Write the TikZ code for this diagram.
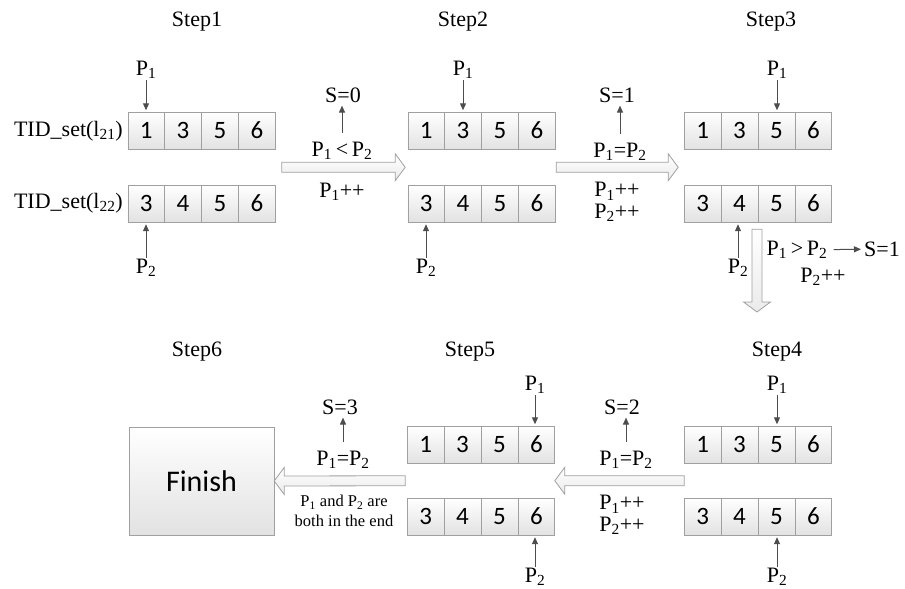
\documentclass[tikz,border=0pt]{standalone}
\usepackage{fontspec}
\usepackage{array}
\setmainfont{Liberation Serif}
\newfontfamily\cellfont{Carlito}
\usetikzlibrary{arrows.meta, calc}

\definecolor{cellline}{RGB}{160,160,160}
\definecolor{cellfill}{RGB}{226,226,226}
\definecolor{ptrcolor}{RGB}{77,77,77}

\newcommand\pone{P\textsubscript{1}}
\newcommand\ptwo{P\textsubscript{2}}

\newcommand\tidcells[4]{%
\begin{tabular}{@{}c@{{\color{cellline}\vrule}}c@{{\color{cellline}\vrule}}c@{{\color{cellline}\vrule}}c@{}}
\rule[-11pt]{0pt}{37pt}\makebox[36.5pt]{#1}&\makebox[36.5pt]{#2}&\makebox[36.5pt]{#3}&\makebox[36.5pt]{#4}
\end{tabular}}

\newcommand\fatarrow[2]{%
  \coordinate (hb) at ($(#2)!10pt!(#1)$);
  \draw[bigarrow] ($(#1)!5pt!90:(#2)$) -- ($(hb)!5pt!-90:(#1)$) -- ($(hb)!13.5pt!-90:(#1)$) -- (#2)
    -- ($(hb)!13.5pt!90:(#1)$) -- ($(hb)!5pt!90:(#1)$) -- ($(#1)!5pt!-90:(#2)$) -- cycle;}

\begin{document}
\begin{tikzpicture}[
  x=1pt, y=1pt,
  tid/.style={draw=cellline, top color=white, bottom color=cellfill, inner sep=0pt,
    font=\cellfont\fontsize{25}{28}\selectfont},
  lbl/.style={inner sep=1pt, font=\fontsize{22}{21.5}\selectfont, align=center},
  note/.style={inner sep=1pt, font=\fontsize{16.5}{20}\selectfont, align=center},
  stepname/.style={font=\fontsize{22}{24}\selectfont},
  ptr/.style={draw=ptrcolor, line width=1pt, -{Triangle[length=7pt,width=6pt]}, shorten >=2pt},
  bigarrow/.style={draw=cellline, line width=0.8pt, top color=white, bottom color=cellfill!70},
  finishbox/.style={draw=cellline, top color=white, bottom color=cellfill, minimum width=145pt,
    minimum height=108pt, font=\cellfont\fontsize{30}{34}\selectfont}
]
\useasboundingbox (0,0) rectangle (905,-589);

\node[stepname] (st1) at (197,-22) {Step1};
\node[stepname] (st2) at (463,-22) {Step2};
\node[stepname] (st3) at (771,-22) {Step3};
\node[stepname] (st6) at (197,-352) {Step6};
\node[stepname] (st5) at (470,-352) {Step5};
\node[stepname] (st4) at (777,-352) {Step4};

% Step1
\node[lbl, anchor=east] (set21) at (124,-131) {TID\_set(l\textsubscript{21})};
\node[lbl, anchor=east] (set22) at (124,-203.5) {TID\_set(l\textsubscript{22})};
\node[tid] (s1top) at (201.5,-131) {\tidcells{1}{3}{5}{6}};
\node[tid] (s1bot) at (201.5,-203.5) {\tidcells{3}{4}{5}{6}};
\node[lbl] (s1p1) at (146,-70) {\pone};
\node[lbl] (s1p2) at (146,-268) {\ptwo};
\draw[ptr] (s1p1) -- (s1p1 |- s1top.north);
\draw[ptr] (s1p2) -- (s1p2 |- s1bot.south);

% Step2
\node[tid] (s2top) at (481.5,-131) {\tidcells{1}{3}{5}{6}};
\node[tid] (s2bot) at (481.5,-203.5) {\tidcells{3}{4}{5}{6}};
\node[lbl] (s2p1) at (463,-70) {\pone};
\node[lbl] (s2p2) at (426,-268) {\ptwo};
\draw[ptr] (s2p1) -- (s2p1 |- s2top.north);
\draw[ptr] (s2p2) -- (s2p2 |- s2bot.south);

% Step3
\node[tid] (s3top) at (758,-131) {\tidcells{1}{3}{5}{6}};
\node[tid] (s3bot) at (758,-203.5) {\tidcells{3}{4}{5}{6}};
\node[lbl] (s3p1) at (777,-70) {\pone};
\node[lbl] (s3p2) at (738,-268) {\ptwo};
\draw[ptr] (s3p1) -- (s3p1 |- s3top.north);
\draw[ptr] (s3p2) -- (s3p2 |- s3bot.south);

% Step4
\node[tid] (s4top) at (758,-445) {\tidcells{1}{3}{5}{6}};
\node[tid] (s4bot) at (758,-516.5) {\tidcells{3}{4}{5}{6}};
\node[lbl] (s4p1) at (777,-385) {\pone};
\node[lbl] (s4p2) at (777,-577) {\ptwo};
\draw[ptr] (s4p1) -- (s4p1 |- s4top.north);
\draw[ptr] (s4p2) -- (s4p2 |- s4bot.south);

% Step5
\node[tid] (s5top) at (481,-445) {\tidcells{1}{3}{5}{6}};
\node[tid] (s5bot) at (481,-516.5) {\tidcells{3}{4}{5}{6}};
\node[lbl] (s5p1) at (535,-385) {\pone};
\node[lbl] (s5p2) at (535,-577) {\ptwo};
\draw[ptr] (s5p1) -- (s5p1 |- s5top.north);
\draw[ptr] (s5p2) -- (s5p2 |- s5bot.south);

% Step6
\node[finishbox] (fin) at (201.5,-481) {Finish};

% Step1 -> Step2
\node[lbl] (s12) at (343,-95) {S=0};
\node[lbl] (c12) at (342,-151) {\pone\,<\,\ptwo};
\node[lbl] (m12) at (342,-192) {\pone++};
\draw[ptr, shorten <=8pt] (c12) -- (c12 |- s12.south);
\coordinate (a12) at ($(s1top.east)!0.5!(s1bot.east)+(6.5,0)$);
\coordinate (b12) at ($(s2top.west)!0.5!(s2bot.west)+(-2.5,0)$);
\fatarrow{a12}{b12}

% Step2 -> Step3
\node[lbl] (s23) at (617,-95) {S=1};
\node[lbl] (c23) at (620,-152) {\pone=\ptwo};
\node[lbl] (m23) at (617,-202) {\pone++\\\ptwo++};
\draw[ptr, shorten <=8pt] (c23) -- (c23 |- s23.south);
\coordinate (a23) at ($(s2top.east)!0.5!(s2bot.east)+(1,0)$);
\coordinate (b23) at ($(s3top.west)!0.5!(s3bot.west)+(-6,0)$);
\fatarrow{a23}{b23}

% Step3 -> Step4
\coordinate (a34) at ($(s3bot.south)+(-1,-7)$);
\coordinate (b34) at (757,-312);
\fatarrow{a34}{b34}
\node[lbl] (c34) at (797,-250) {\pone\,>\,\ptwo};
\node[lbl] (s34) at (882,-249) {S=1};
\node[lbl] (m34) at (823,-277) {\ptwo++};
\draw[ptr, shorten <=5pt, shorten >=2pt] (c34) -- (s34);

% Step4 -> Step5
\node[lbl] (s45) at (622,-407) {S=2};
\node[lbl] (c45) at (626,-460) {\pone=\ptwo};
\node[lbl] (m45) at (622,-515) {\pone++\\\ptwo++};
\draw[ptr, shorten <=8pt] (c45) -- (c45 |- s45.south);
\coordinate (a45) at ($(s4top.west)!0.5!(s4bot.west)$);
\coordinate (b45) at ($(s5top.east)!0.5!(s5bot.east)$);
\fatarrow{a45}{b45}

% Step5 -> Step6
\node[lbl] (s56) at (340,-407) {S=3};
\node[lbl] (c56) at (343,-460) {\pone=\ptwo};
\node[note] (m56) at (344,-511) {\pone{} and \ptwo{} are\\both in the end};
\draw[ptr, shorten <=8pt] (c56) -- (c56 |- s56.south);
\coordinate (a56) at ($(s5top.west)!0.5!(s5bot.west)+(-2,0)$);
\fatarrow{a56}{fin.east}

\end{tikzpicture}
\end{document}
